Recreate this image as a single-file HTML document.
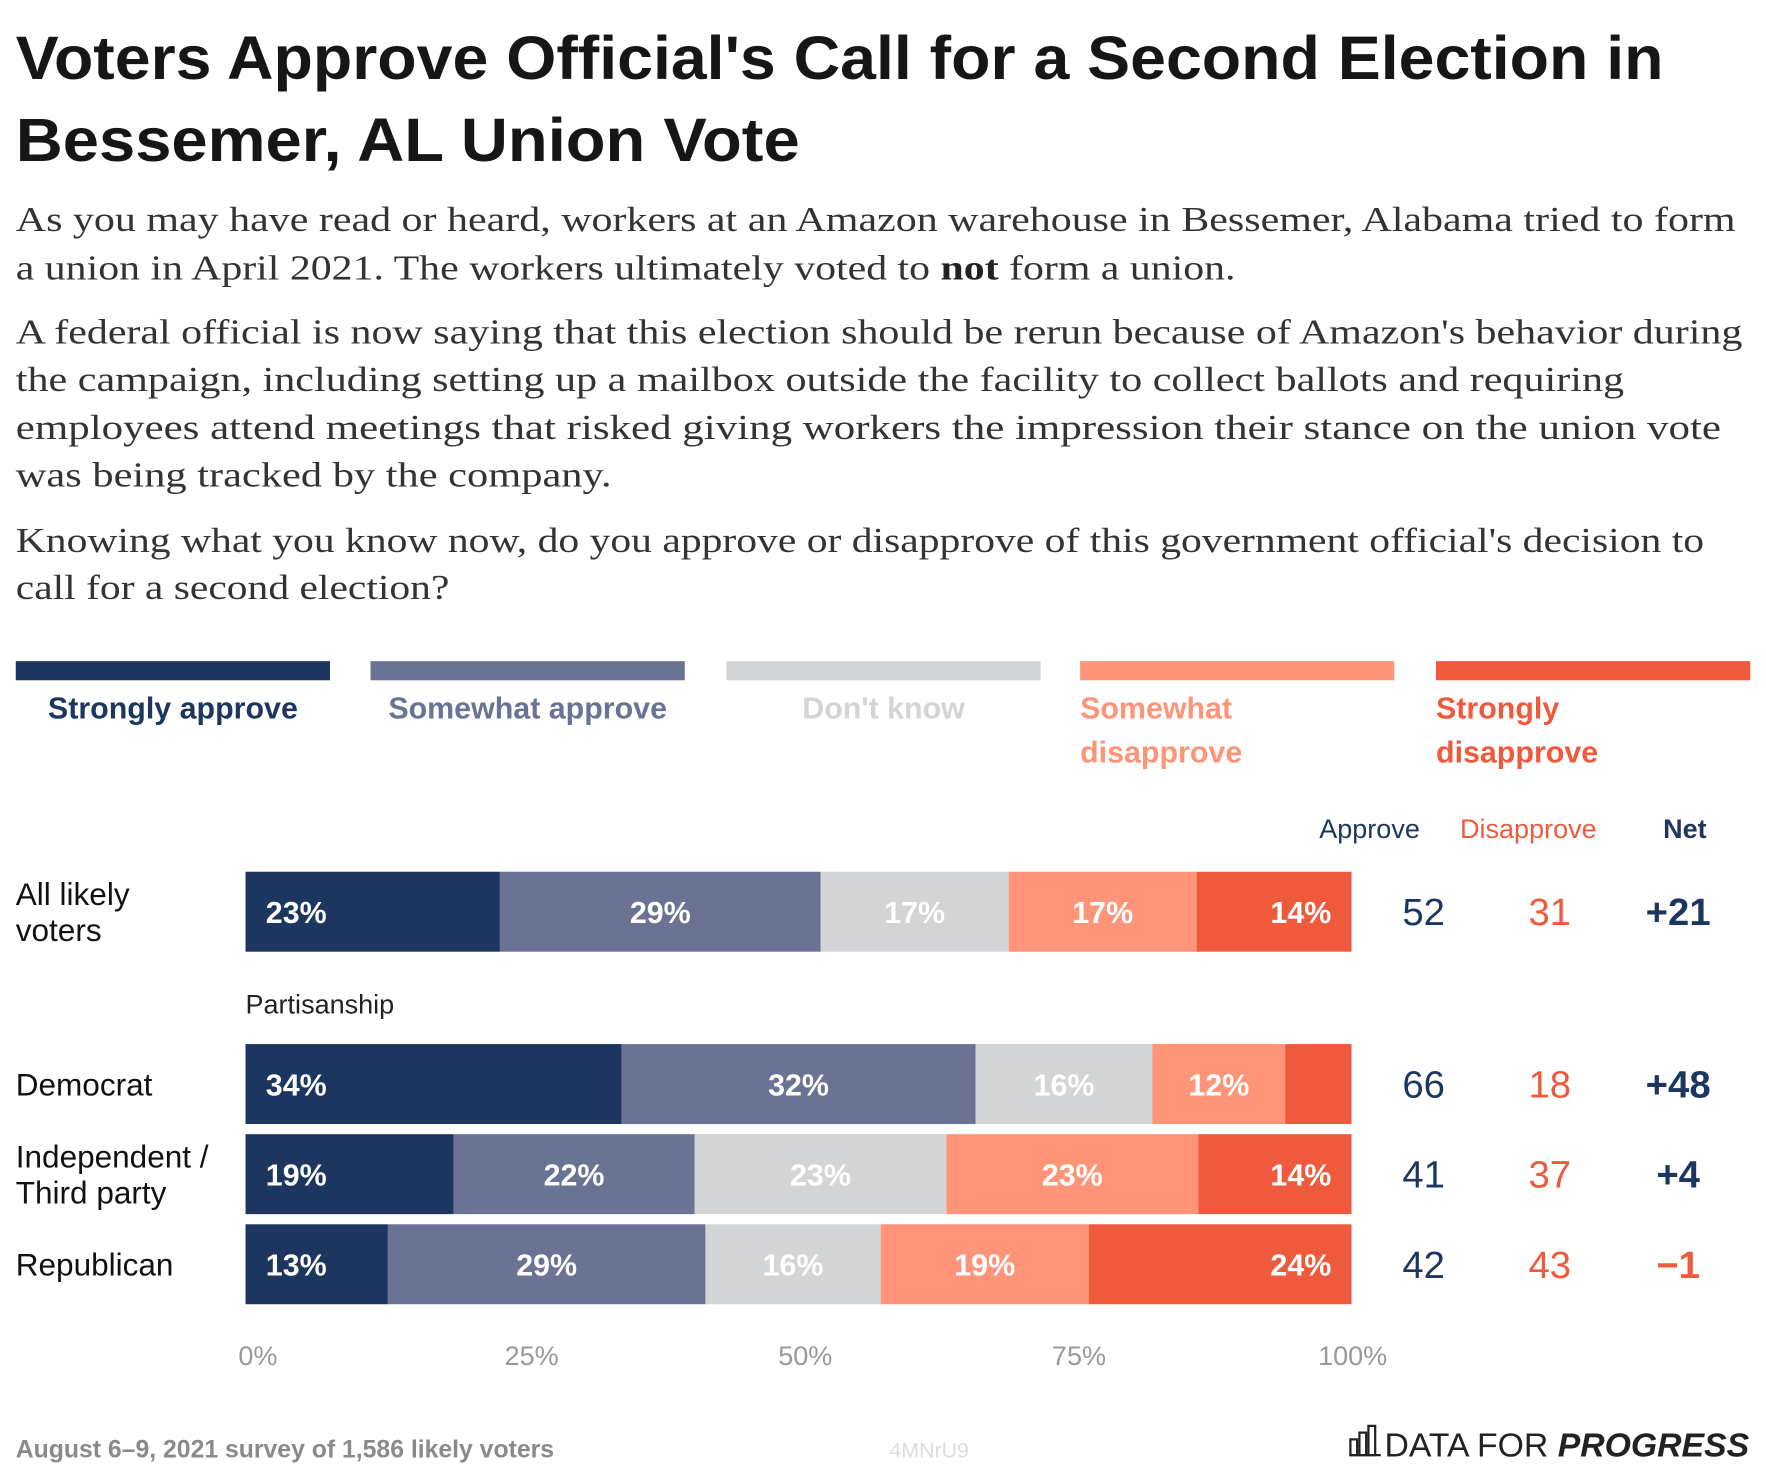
<!DOCTYPE html>
<html><head><meta charset="utf-8"><style>
html,body{margin:0;padding:0;background:#fff;width:1766px;height:1476px;overflow:hidden}
svg text{font-family:"Liberation Sans",sans-serif}
.serif{font-family:"Liberation Serif",serif;font-size:31px;fill:#333}
</style></head><body>
<svg id="chart" width="1766" height="1476" viewBox="0 0 1568 1310.5" xmlns="http://www.w3.org/2000/svg">
<g font-weight="bold" font-size="54" fill="#161616">
<text x="14" y="70" textLength="1463" lengthAdjust="spacingAndGlyphs">Voters Approve Official's Call for a Second Election in</text>
<text x="14" y="143" textLength="696" lengthAdjust="spacingAndGlyphs">Bessemer, AL Union Vote</text>
</g>
<g class="serif">
<text class="serif" x="14" y="205" textLength="1527" lengthAdjust="spacingAndGlyphs">As you may have read or heard, workers at an Amazon warehouse in Bessemer, Alabama tried to form</text>
<text class="serif" x="14" y="248" textLength="1083" lengthAdjust="spacingAndGlyphs">a union in April 2021. The workers ultimately voted to <tspan font-weight="bold" fill="#222">not</tspan> form a union.</text>
<text class="serif" x="14" y="305" textLength="1533" lengthAdjust="spacingAndGlyphs">A federal official is now saying that this election should be rerun because of Amazon's behavior during</text>
<text class="serif" x="14" y="347" textLength="1428" lengthAdjust="spacingAndGlyphs">the campaign, including setting up a mailbox outside the facility to collect ballots and requiring</text>
<text class="serif" x="14" y="390" textLength="1514" lengthAdjust="spacingAndGlyphs">employees attend meetings that risked giving workers the impression their stance on the union vote</text>
<text class="serif" x="14" y="432" textLength="529" lengthAdjust="spacingAndGlyphs">was being tracked by the company.</text>
<text class="serif" x="14" y="490" textLength="1499" lengthAdjust="spacingAndGlyphs">Knowing what you know now, do you approve or disapprove of this government official's decision to</text>
<text class="serif" x="14" y="532" textLength="385" lengthAdjust="spacingAndGlyphs">call for a second election?</text>
</g>
<g id="legend" font-size="27" font-weight="bold"></g>
<g id="headers" font-size="24"></g>
<g id="bars"></g>
<g id="xaxis" font-size="24" fill="#999"></g>
<text x="218" y="900" font-size="24" fill="#222">Partisanship</text>
<g>
<text x="14" y="1294" font-size="22" font-weight="bold" fill="#8a8a8a">August 6–9, 2021 survey of 1,586 likely voters</text>
<text x="825" y="1294" font-size="19" text-anchor="middle" fill="#ddd">4MNrU9</text>
<g fill="none" stroke="#222" stroke-width="2">
<rect x="1199" y="1278" width="6" height="14"/><rect x="1207" y="1272" width="6" height="20"/><rect x="1215" y="1266" width="6" height="26"/><line x1="1198" y1="1292" x2="1226" y2="1292"/>
</g>
<text x="1553" y="1293" text-anchor="end" font-size="30" fill="#222">DATA FOR <tspan font-weight="bold" font-style="italic">PROGRESS</tspan></text>
</g>
</svg>
<script>
const NS='http://www.w3.org/2000/svg';
const seriesNames=['Strongly approve','Somewhat approve',"Don't know",'Somewhat disapprove','Strongly disapprove'];
const seriesColors=['#1c365f','#6a7394','#d3d4d6','#ff9478','#f05a3c'];
const categories=['All likely voters','Democrat','Independent / Third party','Republican'];
const stronglyApprove=[23,34,19,13];
const somewhatApprove=[29,32,22,29];
const dontKnow=[17,16,23,16];
const somewhatDisapprove=[17,12,23,19];
const stronglyDisapprove=[14,6,14,24];
const approveTotals=[52,66,41,42];
const disapproveTotals=[31,18,37,43];
const netValues=['+21','+48','+4','−1'];
const tickValues=[0,25,50,75,100];
const tickLabels=['0%','25%','50%','75%','100%'];

const X0=218,X1=1200,BH=71;
const rowTops=[774,927,1007,1087];
const rowLabelLines=[['All likely','voters'],['Democrat'],['Independent /','Third party'],['Republican']];
const xScale=p=>X0+(X1-X0)*p/100;
function mk(tag,attrs,parent,text){const e=document.createElementNS(NS,tag);for(const k in attrs)e.setAttribute(k,attrs[k]);if(text!==undefined)e.textContent=text;parent.appendChild(e);return e;}

const lg=document.getElementById('legend');
const legX=[14,329,645,959,1275],legW=279;
const legLines=[['Strongly approve'],['Somewhat approve'],["Don't know"],['Somewhat','disapprove'],['Strongly','disapprove']];
seriesNames.forEach((n,i)=>{
  const r=mk('rect',{x:legX[i],y:587,width:legW,height:17,fill:seriesColors[i]},lg);
  
  
  const lines=legLines[i];
  const single=lines.length===1;
  lines.forEach((l,j)=>{
    const t=mk('text',{x:single?legX[i]+legW/2:legX[i],y:638+j*39,'text-anchor':single?'middle':'start',fill:seriesColors[i]},lg,l);
    
    
  });
});

const hd=document.getElementById('headers');
[['Approve',1216,'#1c365f','normal'],['Disapprove',1357,'#f05a3c','normal'],['Net',1496,'#1c365f','bold']].forEach(h=>{
  const t=mk('text',{x:h[1],y:744,'text-anchor':'middle',fill:h[2],'font-weight':h[3]},hd,h[0]);
  
  
});

const bg=document.getElementById('bars');
const series=[stronglyApprove,somewhatApprove,dontKnow,somewhatDisapprove,stronglyDisapprove];
categories.forEach((c,ri)=>{
  const vals=series.map(s=>s[ri]);
  const sum=vals.reduce((a,b)=>a+b,0);
  const y=rowTops[ri];
  let cum=0;
  vals.forEach((v,si)=>{
    const xa=xScale(cum/sum*100),xb=xScale((cum+v)/sum*100);
    cum+=v;
    const r=mk('rect',{x:xa,y:y,width:xb-xa,height:BH,fill:seriesColors[si]},bg);
    
    
    if(xb-xa>80){
      let tx,anchor;
      if(si===0){tx=xa+18;anchor='start';}
      else if(si===4){tx=xb-18;anchor='end';}
      else{tx=(xa+xb)/2;anchor='middle';}
      const t=mk('text',{x:tx,y:y+BH/2+10,'text-anchor':anchor,fill:'#fff','font-size':27,'font-weight':'bold'},bg,v+'%');
      
      
    }
  });
  const lines=rowLabelLines[ri];
  const cy=y+BH/2;
  lines.forEach((l,j)=>{
    const ly=cy+10+(j-(lines.length-1)/2)*32;
    const t=mk('text',{x:14,y:ly,'font-size':28,fill:'#111'},bg,l);
    
    
  });
  const a=mk('text',{x:1264,y:cy+12,'text-anchor':'middle','font-size':34,fill:'#1c365f'},bg,approveTotals[ri]);
  
  
  const d=mk('text',{x:1376,y:cy+12,'text-anchor':'middle','font-size':34,fill:'#f05a3c'},bg,disapproveTotals[ri]);
  
  
  const neg=netValues[ri].startsWith('−');
  const n=mk('text',{x:1490,y:cy+12,'text-anchor':'middle','font-size':34,'font-weight':'bold',fill:neg?'#f05a3c':'#1c365f'},bg,netValues[ri]);
  
  
});

const ax=document.getElementById('xaxis');
tickValues.forEach((v,i)=>{
  const t=mk('text',{x:xScale(v)+11-v/10,y:1212,'text-anchor':'middle'},ax,tickLabels[i]);
  
  
});
</script>
</body></html>
